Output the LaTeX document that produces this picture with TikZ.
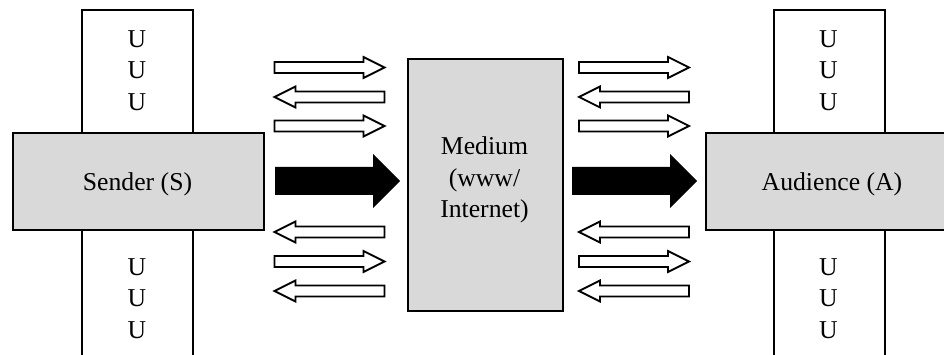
\documentclass[tikz,border=0pt]{standalone}
\usepackage{fontspec}
\setmainfont{Liberation Serif}
\definecolor{boxgray}{RGB}{217,217,217}
\begin{document}
\begin{tikzpicture}[x=1pt,y=-1pt,
  box/.style={draw=black, line width=1.8pt, fill=boxgray, inner sep=0pt, anchor=north west},
  strip/.style={draw=black, line width=1.8pt, fill=white, inner sep=0pt, anchor=north west},
  lbl/.style={font=\fontsize{25.7}{31.5}\selectfont, inner sep=0pt, anchor=base},
  hollow/.style={draw=black, line width=1.8pt, fill=white, line join=miter},
  rarr/.pic={\draw[hollow] (0,-5.5) -- (89,-5.5) -- (89,-10.5) -- (110,0) -- (89,10.5) -- (89,5.5) -- (0,5.5) -- cycle;},
  larr/.pic={\draw[hollow] (110,-5.5) -- (21,-5.5) -- (21,-10.5) -- (0,0) -- (21,10.5) -- (21,5.5) -- (110,5.5) -- cycle;},
  barr/.pic={\fill[black] (0,-14) -- (98,-14) -- (98,-27) -- (125,0) -- (98,27) -- (98,14) -- (0,14) -- cycle;}
]
\useasboundingbox (0,0) rectangle (944,355);
\clip (0,0) rectangle (944,355);

% vertical strips
\node[strip, minimum width=111, minimum height=380] (lstrip) at (81,9) {};
\node[strip, minimum width=111, minimum height=380] (rstrip) at (773,9) {};

% main boxes
\node[box, minimum width=251, minimum height=97] (snd) at (12,132) {};
\node[box, minimum width=155, minimum height=252] (med) at (407,58) {};
\node[box, minimum width=247, minimum height=97] (aud) at (705,132) {};

% labels
\node[lbl] (sndtxt) at (137.5,190.5) {Sender (S)};
\node[lbl] (audtxt) at (832,190.5) {Audience (A)};
\node[lbl] (medtxt1) at (484.5,155) {Medium};
\node[lbl] (medtxt2) at (484.5,186.5) {(www/};
\node[lbl] (medtxt3) at (484.5,218) {Internet)};

% U letters
\foreach \yy [count=\i] in {47.5,79,110.5,275,306.5,338}{
  \node[lbl] (lu\i) at (137,\yy) {U};
  \node[lbl] (ru\i) at (828.5,\yy) {U};
}

% hollow arrows
\foreach \xx/\side in {274.5/l,579/r}{
  \pic (\side h1) at (\xx,67.5) {rarr};
  \pic (\side h2) at (\xx,97) {larr};
  \pic (\side h3) at (\xx,126) {rarr};
  \pic (\side h4) at (\xx,232) {larr};
  \pic (\side h5) at (\xx,261.5) {rarr};
  \pic (\side h6) at (\xx,291) {larr};
}

% black arrows
\pic (lbig) at (275,181) {barr};
\pic (rbig) at (572,181) {barr};
\end{tikzpicture}
\end{document}
